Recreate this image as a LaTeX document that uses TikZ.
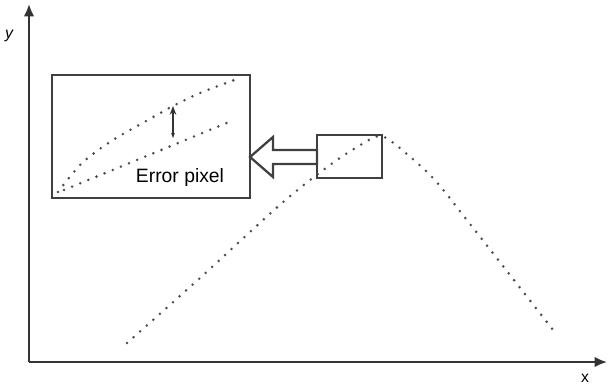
\documentclass[tikz,border=0pt]{standalone}
\usepackage{fontspec}
\setmainfont{Liberation Sans}
\usetikzlibrary{arrows.meta}
\begin{document}
\begin{tikzpicture}[x=0.02cm,y=-0.02cm,
  axis/.style={line width=1.2pt,draw=black!80,-{Latex[length=7pt,width=6pt]}},
  frame/.style={line width=1.3pt,draw=black!75},
  pixels/.style={line width=1.6pt,line cap=round,dash pattern=on 0pt off 5pt,draw=black!70},
  lbl/.style={inner sep=1pt,font=\fontsize{9}{10}\selectfont}]
\useasboundingbox (0,0) rectangle (608,386);
\coordinate (O) at (29,362);
\coordinate (ytop) at (29,4);
\coordinate (xend) at (607,362);
\draw[axis] (O) -- (ytop);
\draw[axis] (O) -- (xend);
\node[lbl] (ylab) at (9,36) {\itshape y};
\node[lbl] (xlab) at (585,378) {x};
% the pixel curve
\draw[pixels] plot[smooth] coordinates {(127,343) (200,278) (282,203) (330,165) (362,144) (380,136) (396,145) (433,178) (470,224) (510,275) (557,335)};
% magnified view
\draw[frame] (52,75) rectangle (250,198);
\draw[pixels] plot[smooth] coordinates {(58,192) (82,163) (113,140) (148,120) (173,106) (200,93) (237,79)};
\draw[pixels] (64,190) -- (234,120);
\coordinate (etop) at (173,106);
\coordinate (ebot) at (173,138);
\draw[line width=1.3pt,draw=black!80,{Stealth[length=5pt]}-{Stealth[length=3pt]}] (etop) -- (ebot);
\node (err) at (180,177) {\fontsize{11}{13}\selectfont Error pixel};
% window and arrow
\draw[frame] (317,135) rectangle (382,178);
\draw[frame,line join=miter] (250,157) -- (273,137) -- (273,150) -- (317,150)
  -- (317,164) -- (273,164) -- (273,177) -- cycle;
\end{tikzpicture}
\end{document}
